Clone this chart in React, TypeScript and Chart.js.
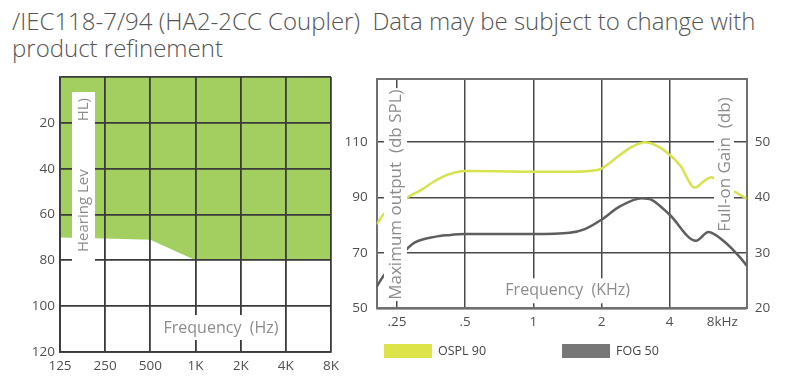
import React, { useEffect, useRef } from 'react';
import { Chart, registerables } from 'chart.js';

Chart.register(...registerables);

const FONT = "'Open Sans', 'Noto Sans', sans-serif";

// ---------- Left chart: fitting range (audiogram) ----------
const audioFreqLabels = ['125', '250', '500', '1K', '2K', '4K', '8K'];
const fittingLimit = [70, 70.5, 71, 80, 80, 80, 80];
const hearingMin = 0;
const hearingMax = 120;
const hearingStep = 20;

// ---------- Right chart: frequency response ----------
const xTickValues = [0.25, 0.5, 1, 2, 4, 8];
const xTickLabels = ['.25', '.5', '1', '2', '4', '8kHz'];
const X_MIN = 0.2033;
const X_MAX = 8.755;

const osplFreq = [0.2033, 0.218, 0.25, 0.281, 0.32, 0.367, 0.42, 0.5, 0.7, 1.0, 1.45, 1.78, 2.0, 2.41, 2.75, 3.11, 3.5, 3.88, 4.44, 5.17, 5.62, 6.13, 6.6, 7.0, 7.8, 8.755];
const osplValues = [80.4, 83.9, 87.5, 90.3, 92.8, 96.0, 98.3, 99.6, 99.5, 99.3, 99.3, 99.6, 100.5, 105.4, 108.5, 110.0, 108.8, 106.4, 101.7, 93.6, 95.7, 97.3, 95.5, 93.5, 92.0, 89.5];

const fogFreq = [0.2033, 0.218, 0.25, 0.281, 0.3, 0.367, 0.42, 0.5, 1.0, 1.45, 1.69, 2.0, 2.41, 3.01, 3.33, 4.0, 5.23, 5.93, 6.9, 8.18, 8.755];
const fogValues = [23.9, 25.9, 28.5, 31.0, 31.9, 32.9, 33.2, 33.4, 33.4, 33.65, 34.3, 36.0, 38.4, 39.9, 39.6, 36.9, 32.2, 33.8, 32.2, 29.2, 27.7];

const outputTicks = [50, 70, 90, 110];
const gainTicks = [20, 30, 40, 50];
const Y_MIN = 50;
const Y_MAX = 132.8;
const Y1_MIN = 20;
const Y1_MAX = 20 + (Y_MAX - Y_MIN) / 2;

const seriesNames = ['OSPL 90', 'FOG 50'];
const lineColors = ['#d6e24e', '#5e5e5e'];
const legendColors = ['#dde449', '#777777'];

const GREEN = '#a2cf60';
const GRID_L = '#3a3a3a';
const GRID_R = '#4a4a4a';
const BORDER_R = '#707070';
const LABEL_GREY = '#8c8c8c';
const TICK_COLOR = '#505050';

function drawRotated(ctx: CanvasRenderingContext2D, text: string, x: number, y: number, align: CanvasTextAlign, size: number) {
  ctx.save();
  ctx.translate(x, y);
  ctx.rotate(-Math.PI / 2);
  ctx.textAlign = align;
  ctx.textBaseline = 'middle';
  ctx.font = `${size}px ${FONT}`;
  ctx.fillStyle = LABEL_GREY;
  ctx.fillText(text, 0, 0);
  ctx.restore();
}

const leftAnnot = {
  id: 'leftAnnot',
  afterDraw(chart: any) {
    const ctx: CanvasRenderingContext2D = chart.ctx;
    const a = chart.chartArea;
    ctx.save();
    ctx.fillStyle = '#ffffff';
    ctx.fillRect(a.left + 12, a.top + 15, 23, 170);
    ctx.fillRect(a.left + 102, a.bottom - 37, 119, 25);
    drawRotated(ctx, 'Hearing Lev', a.left + 23.5, a.top + 175, 'left', 15);
    drawRotated(ctx, 'HL)', a.left + 23.5, a.top + 21, 'right', 15);
    ctx.font = `16px ${FONT}`;
    ctx.fillStyle = LABEL_GREY;
    ctx.textAlign = 'center';
    ctx.textBaseline = 'middle';
    ctx.fillText('Frequency  (Hz)', a.left + 161, a.bottom - 24);
    ctx.restore();
  },
};

const rightAnnot = {
  id: 'rightAnnot',
  afterDraw(chart: any) {
    const ctx: CanvasRenderingContext2D = chart.ctx;
    const a = chart.chartArea;
    ctx.save();
    ctx.fillStyle = '#ffffff';
    ctx.fillRect(a.left + 7.3, a.top + 9, 23, 213);
    ctx.fillRect(a.right - 32.7, a.top + 17, 20, 137);
    ctx.fillRect(a.left + 130, a.bottom - 30, 125, 25);
    drawRotated(ctx, 'Maximum output  (db SPL)', a.left + 19.8, a.top + 115.5, 'center', 17);
    drawRotated(ctx, 'Full-on Gain  (db)', a.right - 22, a.top + 85.5, 'center', 17);
    ctx.font = `16px ${FONT}`;
    ctx.fillStyle = LABEL_GREY;
    ctx.textAlign = 'center';
    ctx.textBaseline = 'middle';
    ctx.fillText('Frequency  (KHz)', a.left + 191, a.bottom - 18);
    ctx.restore();
  },
};

function LeftChart() {
  const ref = useRef<HTMLCanvasElement>(null);
  useEffect(() => {
    if (!ref.current) return;
    const chart = new Chart(ref.current, {
      type: 'line',
      data: {
        labels: audioFreqLabels,
        datasets: [
          {
            label: 'Fitting range',
            data: fittingLimit,
            fill: { value: hearingMin },
            backgroundColor: GREEN,
            borderColor: 'rgba(0,0,0,0)',
            borderWidth: 0,
            pointRadius: 0,
            tension: 0,
          },
        ],
      },
      options: {
        responsive: false,
        animation: false,
        layout: { padding: { top: 15, right: 10, left: 0, bottom: 0 } },
        plugins: { legend: { display: false }, tooltip: { enabled: false } },
        scales: {
          x: {
            type: 'category',
            offset: false,
            grid: { color: GRID_L, lineWidth: 1.8, drawTicks: false, z: 1 },
            border: { color: GRID_L, width: 1.8, z: 1 },
            ticks: { color: TICK_COLOR, font: { family: FONT, size: 13.5 }, padding: 6, autoSkip: false, maxRotation: 0 },
            afterFit: (s: any) => { s.height = 32; },
          },
          y: {
            type: 'linear',
            reverse: true,
            min: hearingMin,
            max: hearingMax,
            grid: { color: GRID_L, lineWidth: 1.8, drawTicks: false, z: 1 },
            border: { color: GRID_L, width: 1.8, z: 1 },
            ticks: {
              stepSize: hearingStep,
              color: TICK_COLOR,
              font: { family: FONT, size: 13.5 },
              padding: 5,
              callback: (v: any) => (v === hearingMin ? '' : String(v)),
            },
            afterFit: (s: any) => { s.width = 60; },
          },
        },
      } as any,
      plugins: [leftAnnot],
    });
    return () => chart.destroy();
  }, []);
  return <canvas ref={ref} width={345} height={322} style={{ position: 'absolute', left: 0, top: 62 }} />;
}

function RightChart() {
  const ref = useRef<HTMLCanvasElement>(null);
  useEffect(() => {
    if (!ref.current) return;
    const chart = new Chart(ref.current, {
      type: 'line',
      data: {
        datasets: [
          {
            label: seriesNames[0],
            data: osplFreq.map((f, i) => ({ x: f, y: osplValues[i] })),
            borderColor: lineColors[0],
            backgroundColor: legendColors[0],
            borderWidth: 2.5,
            pointRadius: 0,
            cubicInterpolationMode: 'monotone',
            yAxisID: 'y',
          },
          {
            label: seriesNames[1],
            data: fogFreq.map((f, i) => ({ x: f, y: fogValues[i] })),
            borderColor: lineColors[1],
            backgroundColor: legendColors[1],
            borderWidth: 2.5,
            pointRadius: 0,
            cubicInterpolationMode: 'monotone',
            yAxisID: 'y1',
          },
        ],
      },
      options: {
        responsive: false,
        animation: false,
        layout: { padding: { top: 14, right: 0, left: 0, bottom: 0 } },
        plugins: { legend: { display: false }, tooltip: { enabled: false } },
        scales: {
          x: {
            type: 'logarithmic',
            min: X_MIN,
            max: X_MAX,
            grid: {
              color: (c: any) => (c.tick && (c.tick.value === X_MIN || c.tick.value === 8) ? 'rgba(0,0,0,0)' : GRID_R),
              lineWidth: 1.5,
              drawTicks: false,
            },
            border: { color: BORDER_R, width: 2 },
            afterBuildTicks: (s: any) => {
              s.ticks = [X_MIN, ...xTickValues].map((v) => ({ value: v }));
            },
            ticks: {
              align: 'inner',
              autoSkip: false,
              maxRotation: 0,
              padding: 6,
              color: TICK_COLOR,
              font: { family: FONT, size: 13.5 },
              callback: (_v: any, i: number) => (i === 0 ? '' : xTickLabels[i - 1]),
            },
            afterFit: (s: any) => { s.height = 33.7; },
          },
          y: {
            type: 'linear',
            position: 'left',
            min: Y_MIN,
            max: Y_MAX,
            afterBuildTicks: (s: any) => {
              s.ticks = [...outputTicks, Y_MAX].map((v) => ({ value: v }));
            },
            grid: {
              color: (c: any) => (c.tick && c.tick.value === Y_MAX ? BORDER_R : GRID_R),
              lineWidth: (c: any) => (c.tick && c.tick.value === Y_MAX ? 2 : 1.5),
              drawTicks: false,
            },
            border: { color: BORDER_R, width: 2 },
            ticks: {
              color: TICK_COLOR,
              font: { family: FONT, size: 13.5 },
              padding: 9,
              callback: (v: any) => (outputTicks.includes(v) ? String(v) : ''),
            },
            afterFit: (s: any) => { s.width = 36.7; },
          },
          y1: {
            type: 'linear',
            position: 'right',
            min: Y1_MIN,
            max: Y1_MAX,
            afterBuildTicks: (s: any) => {
              s.ticks = gainTicks.map((v) => ({ value: v }));
            },
            grid: { display: false, drawTicks: false },
            border: { color: BORDER_R, width: 2 },
            ticks: {
              color: TICK_COLOR,
              font: { family: FONT, size: 13.5 },
              padding: 8,
              callback: (v: any) => String(v),
            },
            afterFit: (s: any) => { s.width = 53.3; },
          },
        },
      } as any,
      plugins: [rightAnnot],
    });
    return () => chart.destroy();
  }, []);
  return <canvas ref={ref} width={460} height={280} style={{ position: 'absolute', left: 340, top: 62 }} />;
}

function Legend() {
  const items = [
    { name: seriesNames[0], color: legendColors[0], left: 384 },
    { name: seriesNames[1], color: legendColors[1], left: 562 },
  ];
  return (
    <>
      {items.map((it) => (
        <div key={it.name} style={{ position: 'absolute', left: it.left, top: 344, height: 14, display: 'flex', alignItems: 'center' }}>
          <div style={{ width: 48, height: 14, background: it.color }} />
          <span style={{ marginLeft: 6, font: `12.5px ${FONT}`, color: '#444', lineHeight: '14px' }}>{it.name}</span>
        </div>
      ))}
    </>
  );
}

export default function App() {
  return (
    <div style={{ position: 'absolute', left: 0, top: 0, width: 800, height: 384, background: '#fff', overflow: 'hidden' }}>
      <div
        style={{
          position: 'absolute',
          left: 12,
          top: 7,
          fontFamily: FONT,
          fontWeight: 300,
          fontSize: 24,
          lineHeight: '27px',
          color: '#555',
          whiteSpace: 'pre',
        }}
      >
        {'/IEC118-7/94 (HA2-2CC Coupler)  Data may be subject to change with\nproduct refinement'}
      </div>
      <LeftChart />
      <RightChart />
      <Legend />
    </div>
  );
}
